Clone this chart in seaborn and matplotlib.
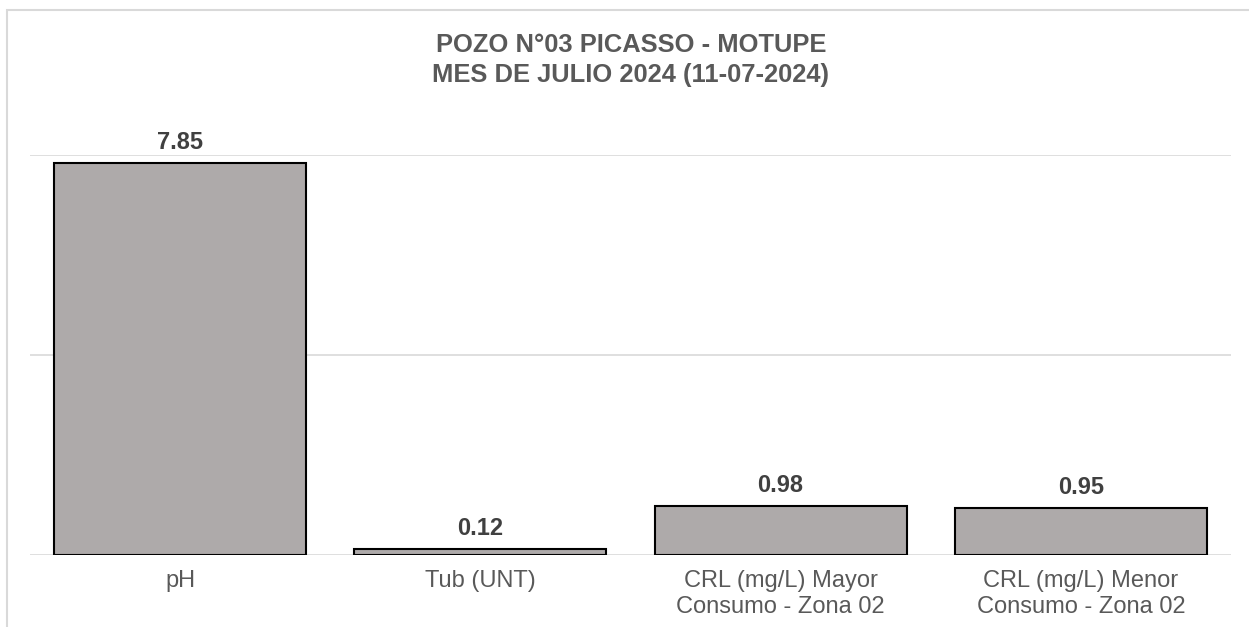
import matplotlib
matplotlib.use("Agg")
import matplotlib.pyplot as plt
import seaborn as sns
import pandas as pd
from matplotlib.patches import Rectangle

categories = ["pH", "Tub (UNT)", "CRL (mg/L) Mayor\nConsumo - Zona 02", "CRL (mg/L) Menor\nConsumo - Zona 02"]
values = [7.85, 0.12, 0.98, 0.95]
value_labels = ["7.85", "0.12", "0.98", "0.95"]
title_lines = ["POZO N°03 PICASSO - MOTUPE", "MES DE JULIO 2024 (11-07-2024)"]

sns.set_style("white")
plt.rcParams['font.family'] = ['Liberation Sans', 'DejaVu Sans']

W, H = 1249, 627
fig = plt.figure(figsize=(W / 100, H / 100), dpi=100)
ax = fig.add_axes([30 / W, 1 - 555 / H, (1231 - 30) / W, (555 - 155) / H])

df = pd.DataFrame({"cat": categories, "val": values})
sns.barplot(data=df, x="cat", y="val", color="#AEAAAA", saturation=1,
            edgecolor="black", linewidth=1.5, width=0.84, ax=ax, zorder=3)

ax.set_ylim(0, 8)
ax.set_xlim(-0.5, len(categories) - 0.5)
ax.set_yticks([0, 4, 8])
ax.set_yticklabels([])
ax.yaxis.grid(True, color="#D9D9D9", linewidth=1.2, zorder=0)
ax.set_axisbelow(True)
for s in ax.spines.values():
    s.set_visible(False)
ax.tick_params(axis="y", length=0)
ax.tick_params(axis="x", length=0, pad=11, labelsize=17, labelcolor="#595959")
for t in ax.get_xticklabels():
    t.set_linespacing(1.2)
ax.set_xlabel("")
ax.set_ylabel("")

for i, (v, lab) in enumerate(zip(values, value_labels)):
    ax.annotate(lab, xy=(i, v), xytext=(0, 6.3), textcoords="offset points",
                ha="center", va="bottom", fontsize=17, fontweight="bold",
                color="#404040", annotation_clip=False)

fig.text(631 / W, 1 - 45 / H, title_lines[0], ha="center", va="center",
         fontsize=18.4, fontweight="bold", color="#595959")
fig.text(631 / W, 1 - 75 / H, title_lines[1], ha="center", va="center",
         fontsize=18.4, fontweight="bold", color="#595959")

fig.patches.append(Rectangle((7 / W, -0.2), 1.2, 1.2 - 10 / H, transform=fig.transFigure,
                             fill=False, edgecolor="#D9D9D9", linewidth=1.5, figure=fig))

fig.savefig("out.png", dpi=100, facecolor="white")
